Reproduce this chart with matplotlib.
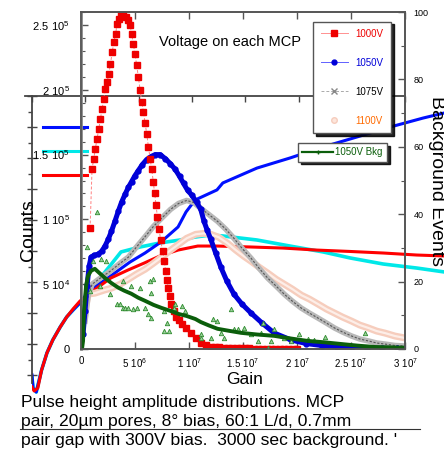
import matplotlib
matplotlib.use('Agg')
import matplotlib.pyplot as plt
from matplotlib.lines import Line2D
from matplotlib.ticker import MultipleLocator
import numpy as np

plt.rcParams['font.family'] = ['Liberation Sans', 'DejaVu Sans']
plt.rcParams['mathtext.fontset'] = 'custom'
plt.rcParams['mathtext.rm'] = 'Liberation Sans'

# gain in units of 1e6, counts in units of 1e3
gain_1000 = [0.84, 1.02, 1.18, 1.33, 1.49, 1.65, 1.80, 1.96, 2.11, 2.26, 2.42, 2.58, 2.73, 2.89, 3.05,
             3.20, 3.35, 3.51, 3.66, 3.91, 4.16, 4.31, 4.54, 4.69, 4.84, 5.00, 5.15, 5.31, 5.47, 5.62,
             5.78, 5.93, 6.08, 6.24, 6.40, 6.55, 6.69, 6.82, 6.95, 7.08, 7.22, 7.39, 7.55, 7.71, 7.85,
             7.97, 8.08, 8.22, 8.36, 8.57, 8.76, 9.04, 9.32, 9.69, 10.15, 10.62, 11.09, 11.55, 12.02,
             12.4, 12.8, 13.2, 13.6, 14.0, 14.4, 14.8, 15.2, 15.6, 16.0, 16.4, 16.8, 17.2, 17.6, 18.0,
             18.4, 18.8, 19.2, 19.6, 20.0]
counts_1000 = [93.1, 138.5, 146.9, 154.6, 162.3, 170.0, 177.7, 185.4, 193.1, 200.8, 206.2, 212.3, 220.0,
               229.2, 236.9, 243.1, 250.8, 254.6, 257.7, 257.9, 256.1, 253.8, 250.0, 243.1, 235.4, 227.7,
               219.2, 210.0, 200.0, 190.8, 183.1, 174.6, 166.2, 156.2, 146.9, 138.5, 129.2, 120.0, 110.8,
               101.5, 92.3, 83.8, 75.4, 67.7, 60.0, 53.1, 46.9, 40.8, 34.6, 29.2, 24.6, 22.3, 19.2, 16.2,
               12.7, 8.5, 5.0, 3.1, 1.9, 1.5, 1.2, 1.0, 0.8, 0.7, 0.6, 0.5, 0.4, 0.4, 0.3, 0.3, 0.3, 0.2,
               0.2, 0.2, 0.2, 0.1, 0.1, 0.1, 0.1]

gain_1050 = [0.19, 0.37, 0.56, 0.75, 0.93, 1.21, 1.58, 1.91, 2.21, 2.52, 2.82, 3.14, 3.45, 3.75, 4.07,
             4.38, 4.69, 5.00, 5.31, 5.68, 6.08, 6.48, 6.87, 7.33, 7.80, 8.26, 8.73, 9.13, 9.50, 9.88,
             10.28, 10.71, 11.09, 11.39, 11.69, 12.02, 12.48, 12.95, 13.51, 14.16, 14.91, 15.75, 16.77,
             17.89, 19.47, 20.87, 22.27, 23.67, 25.06, 26.46, 27.86, 29.26, 30.0]
counts_1050 = [11.5, 29.2, 48.5, 63.8, 70.8, 72.3, 73.1, 75.4, 79.2, 84.6, 90.8, 98.5, 106.2, 113.1, 119.2,
               124.6, 129.2, 133.8, 137.7, 142.3, 146.2, 148.5, 150.0, 150.0, 146.9, 143.1, 138.5, 133.1,
               127.7, 122.3, 118.5, 113.1, 107.7, 98.5, 91.5, 84.6, 73.8, 63.1, 52.3, 42.3, 34.6, 27.7,
               20.0, 12.3, 6.9, 4.2, 2.7, 1.8, 1.2, 0.8, 0.5, 0.4, 0.4]

gain_1075 = [0.37, 0.65, 1.03, 1.77, 2.70, 3.63, 4.38, 5.12, 5.96, 6.71, 7.45, 8.29, 9.04, 9.78, 10.43,
             11.09, 11.83, 12.64, 13.42, 14.16, 14.91, 15.75, 16.49, 17.30, 18.07, 18.82, 19.57, 20.41,
             21.15, 21.96, 22.73, 23.48, 24.22, 25.06, 25.81, 26.62, 27.39, 28.14, 29.07, 30.0]
counts_1075 = [21.5, 40.8, 50.0, 54.6, 60.0, 66.2, 70.8, 78.5, 86.9, 94.6, 100.8, 107.7, 112.3, 114.6,
               113.1, 108.5, 103.8, 98.5, 92.3, 85.4, 77.7, 70.0, 62.3, 54.6, 48.5, 42.3, 36.9, 31.5,
               27.7, 23.8, 20.0, 16.2, 13.1, 10.0, 7.7, 6.2, 4.6, 3.8, 2.7, 2.3]

gain_1100 = [0.28, 0.47, 0.65, 1.30, 2.14, 2.80, 3.63, 4.38, 5.12, 5.93, 6.71, 7.45, 8.29, 9.04, 9.78,
             10.62, 11.37, 12.02, 12.76, 13.58, 14.35, 15.09, 15.75, 16.49, 17.30, 18.07, 18.82, 19.57,
             20.41, 21.15, 21.96, 22.73, 23.48, 24.22, 25.06, 25.81, 26.62, 27.39, 28.14, 29.07, 30.0]
counts_1100 = [21.5, 33.1, 42.3, 43.1, 45.4, 46.9, 50.0, 53.8, 57.7, 61.5, 66.2, 70.8, 76.2, 80.8, 85.4,
               88.5, 89.2, 88.5, 86.2, 81.5, 76.2, 71.5, 67.7, 63.1, 58.5, 53.8, 50.0, 46.2, 41.5, 38.5,
               34.6, 30.8, 27.7, 24.6, 21.5, 18.5, 16.2, 13.8, 12.3, 10.0, 8.5]

# 1050V background, right axis (events)
gain_bkg = [0.09, 0.19, 0.28, 0.47, 0.65, 0.93, 1.28, 1.58, 2.21, 2.80, 3.45, 4.01, 4.66, 5.31, 5.93,
            6.71, 7.45, 8.29, 9.04, 9.78, 10.59, 11.09, 11.83, 12.64, 13.70, 14.81, 16.31, 17.89, 19.47,
            20.98, 22.50, 24.04, 25.62, 27.21, 30.0]
events_bkg = [0.0, 2.4, 11.3, 18.8, 21.7, 23.2, 23.8, 22.9, 21.1, 19.6, 18.2, 17.3, 16.4, 15.2, 14.3,
              13.1, 12.2, 11.3, 10.4, 9.8, 8.9, 8.0, 7.0, 6.0, 5.4, 4.8, 4.3, 3.9, 3.1, 2.4, 2.0, 1.5,
              1.0, 0.6, 0.4]
gain_bkg_raw = [0.53, 0.84, 1.12, 1.44, 1.77, 1.86, 2.33, 2.67, 3.33, 3.61, 3.91, 3.91, 4.10, 4.38, 4.66,
                4.84, 5.15, 5.47, 5.93, 6.24, 6.40, 6.52, 6.52, 6.71, 7.64, 7.64, 7.95, 8.11, 8.57, 8.73,
                9.35, 9.66, 11.09, 11.09, 12.02, 12.18, 12.58, 12.95, 13.23, 13.88, 14.16, 14.51, 15.09,
                15.75, 16.37, 16.68, 16.84, 17.30, 17.61, 17.89, 18.82, 19.47, 20.14, 21.03, 21.62, 22.55,
                26.27]
events_bkg_raw = [30.4, 17.3, 26.2, 40.8, 18.8, 26.8, 26.2, 16.4, 13.4, 13.4, 20.2, 12.2, 12.2, 12.2, 18.8,
                  11.9, 12.2, 18.2, 12.2, 10.4, 20.2, 16.7, 9.2, 20.8, 11.3, 5.4, 7.7, 5.4, 12.2, 13.4,
                  12.8, 11.3, 4.5, 3.3, 3.3, 8.9, 8.3, 4.8, 3.3, 11.9, 6.0, 6.0, 6.3, 4.5, 2.4, 4.8, 7.8,
                  0.3, 2.4, 6.0, 3.3, 2.4, 4.5, 3.0, 2.7, 3.6, 4.8]

# the plot pasted underneath (no readable scale, arbitrary units)
ovl_x_blue = [0.0, 0.02, 0.08, 0.18, 0.28, 0.39, 0.53, 0.65, 0.77, 0.90, 1.09, 1.48, 1.84, 2.12, 2.42,
              2.74, 2.89, 3.06, 3.47, 3.58, 4.22, 4.84, 5.46, 6.09, 6.72, 7.34, 7.73]
ovl_y_blue = [2.0, 1.16, 0.90, 2.32, 3.42, 4.26, 5.10, 5.74, 6.19, 6.65, 7.48, 8.4, 9.29, 9.87, 10.58,
              11.55, 12.52, 13.29, 13.94, 14.39, 15.35, 16.0, 16.71, 17.35, 18.0, 18.58, 18.9]
ovl_x_cyan = [0.0, 0.02, 0.08, 0.18, 0.28, 0.39, 0.53, 0.65, 0.77, 0.90, 1.09, 1.28, 1.46, 1.67, 2.03,
              2.40, 2.78, 3.06, 3.34, 3.58, 4.22, 4.84, 5.46, 5.97, 6.59, 7.22, 7.73]
ovl_y_cyan = [1.81, 1.16, 0.90, 2.32, 3.42, 4.26, 5.10, 5.74, 6.19, 6.65, 7.42, 8.26, 9.03, 9.94, 10.26,
              10.52, 10.71, 10.90, 11.03, 10.97, 10.71, 10.32, 9.94, 9.55, 9.16, 8.90, 8.65]
ovl_x_red = [0.0, 0.04, 0.11, 0.18, 0.28, 0.39, 0.53, 0.65, 0.77, 0.90, 1.09, 1.48, 1.80, 2.11, 2.40,
             2.74, 3.11, 3.47, 4.09, 4.71, 5.34, 5.97, 6.59, 7.22, 7.73]
ovl_y_red = [1.23, 0.97, 1.16, 2.32, 3.42, 4.26, 5.10, 5.74, 6.26, 6.77, 7.29, 8.26, 8.77, 9.23, 9.68,
             10.06, 10.32, 10.32, 10.26, 10.19, 10.06, 9.97, 9.87, 9.74, 9.68]

caption = ["Pulse height amplitude distributions. MCP",
           "pair, 20\u00b5m pores, 8\u00b0 bias, 60:1 L/d, 0.7mm",
           "pair gap with 300V bias.  3000 sec background. '"]

W, H = 444.0, 453.0


def box(x0, y0, x1, y1):
    # pixel box (top-left origin) -> figure fraction
    return [x0 / W, 1 - y1 / H, (x1 - x0) / W, (y1 - y0) / H]


def sci(m, e):
    return r'$\mathregular{%s\ 10^{%d}}$' % (m, e)


fig = plt.figure(figsize=(W / 100, H / 100), dpi=100)

# ---- underlying plot ----
ax2 = fig.add_axes(box(32, 96, 444, 406))
ax2.patch.set_visible(False)
ax2.plot(ovl_x_cyan, ovl_y_cyan, color='#00e8e8', lw=2.6)
ax2.plot(ovl_x_blue, ovl_y_blue, color='#0010ff', lw=2.2)
ax2.plot(ovl_x_red, ovl_y_red, color='#ff0000', lw=2.2)
ax2.set_xlim(0, 412 / 53.3)
ax2.set_ylim(0, 20)
for s in ['right', 'bottom']:
    ax2.spines[s].set_visible(False)
ax2.spines['top'].set_bounds(-0.13, 7)
ax2.spines['left'].set_bounds(1.5, 20)
for s in ['top', 'left']:
    ax2.spines[s].set_color('#444444')
    ax2.spines[s].set_linewidth(1.3)
ax2.xaxis.tick_top()
ax2.set_xticks(range(8))
ax2.tick_params(axis='x', direction='in', length=4, width=1, color='#444444', labeltop=False)
ax2.set_yticks(range(2, 21, 2))
ax2.set_yticks(range(3, 20, 2), minor=True)
ax2.tick_params(axis='y', which='major', direction='inout', length=7, width=1, color='#444444',
                labelleft=False)
ax2.tick_params(axis='y', which='minor', direction='out', length=3, width=1, color='#444444')
ovl_handles = [Line2D([], [], color=c, lw=2.2) for c in ['#0010ff', '#00e8e8', '#ff0000']]
ax2.legend(ovl_handles, [' ', ' ', ' '], loc='upper left', bbox_to_anchor=(0.027, 0.912),
           frameon=False, fontsize=8, handlelength=3.96, labelspacing=1.25, borderpad=0,
           borderaxespad=0, handletextpad=0.2)

# ---- main plot ----
ax1 = fig.add_axes(box(81, 12, 405, 349))
ax1.patch.set_visible(False)
g = lambda v: np.array(v) * 1e6
c = lambda v: np.array(v) * 1e3

ax1.plot(g(gain_1100), c(counts_1100), color='#f6cdbd', lw=5, solid_capstyle='round')
ax1.plot(g(gain_1100), c(counts_1100), color='#fdeee8', lw=1.6)
ax1.plot(g(gain_1075), c(counts_1075), color='#b8b8b8', lw=4)
ax1.plot(g(gain_1075), c(counts_1075), color='#555555', lw=0.8, ls=(0, (2, 1.5)))
ax1.plot(g(gain_1050), c(counts_1050), color='#0000d8', lw=3.6, marker='o', ms=3.5)
ax1.plot(g(gain_1000), c(counts_1000), color='#ff8080', lw=0.7, ls=(0, (3, 2)),
         marker='s', ms=4.5, mfc='#ee0000', mec='#ee0000')

ax1.set_xlim(0, 3.0e7)
ax1.set_ylim(0, 2.6e5)
ax1.set_xticks(np.arange(0, 3.01e7, 5e6))
ax1.set_xticklabels(['0', sci(5, 6), sci(1, 7), sci(1.5, 7), sci(2, 7), sci(2.5, 7), sci(3, 7)])
ax1.set_yticks(np.arange(0, 2.51e5, 5e4))
ax1.set_yticklabels(['0', sci(5, 4), sci(1, 5), sci(1.5, 5), sci(2, 5), sci(2.5, 5)])
ax1.yaxis.set_minor_locator(MultipleLocator(1e4))
ax1.tick_params(axis='x', direction='in', top=True, length=5, width=1, color='#555555',
                labelsize=7, pad=5)
ax1.tick_params(axis='y', which='major', direction='in', right=False, length=5, width=1,
                color='#555555', labelsize=8, pad=8)
ax1.tick_params(axis='y', which='minor', direction='in', right=False, length=3, width=0.8,
                color='#555555')
for s in ax1.spines.values():
    s.set_color('#555555')
    s.set_linewidth(1.2)
ax1.spines['left'].set_color('#888888')
ax1.spines['left'].set_linewidth(2)
ax1.text(0.46, 0.911, 'Voltage on each MCP', transform=ax1.transAxes, ha='center', va='center',
         fontsize=10.5)

leg_handles = [
    Line2D([], [], color='#ff9090', lw=0.7, marker='s', ms=4, mfc='#ee0000', mec='#ee0000'),
    Line2D([], [], color='#6060ff', lw=0.7, marker='o', ms=3.5, mfc='#0000d8', mec='#0000d8'),
    Line2D([], [], color='#aaaaaa', lw=0.7, ls=(0, (3, 2)), marker='x', ms=4, mec='#888888'),
    Line2D([], [], ls='none', marker='o', ms=4, mfc='#fde6dc', mec='#f6cdbd'),
]
leg1 = ax1.legend(leg_handles, ['1000V', '1050V', '1075V', '1100V'], loc='upper right',
                  bbox_to_anchor=(0.972, 0.986), fontsize=7, fancybox=False, edgecolor='#555555',
                  framealpha=1, shadow={'color': 'black', 'alpha': 0.85},
                  labelcolor=['#ee0000', '#0000d8', 'black', '#ff6a00'],
                  handlelength=2.8, labelspacing=1.95, borderpad=0.75, handletextpad=0.8)
leg1.get_frame().set_linewidth(1)

# right axis: background events
axr = ax1.twinx()
axr.plot(g(gain_bkg_raw), events_bkg_raw, ls='none', marker='^', ms=3.2, mfc='#9ad09a',
         mec='#2e8b2e', mew=0.6)
axr.plot(g(gain_bkg), events_bkg, color='#0b5e0b', lw=2.8)
axr.set_ylim(0, 100)
axr.set_yticks(range(0, 101, 20))
axr.yaxis.set_minor_locator(MultipleLocator(10))
axr.tick_params(axis='y', which='major', direction='in', length=5, width=1, color='#555555',
                labelsize=6.5, pad=6)
axr.tick_params(axis='y', which='minor', direction='in', length=3, width=0.8, color='#555555')
for s in axr.spines.values():
    s.set_color('#555555')
    s.set_linewidth(1.2)
leg2 = axr.legend([Line2D([], [], color='#0b5e0b', lw=1.6, marker='+', ms=3)], ['1050V Bkg'],
                  loc='upper right', bbox_to_anchor=(0.96, 0.626), fontsize=7, fancybox=False,
                  edgecolor='#555555', framealpha=1, shadow={'color': 'black', 'alpha': 0.85},
                  labelcolor='#0b5e0b', handlelength=3.2, borderpad=0.45, handletextpad=0.2)
leg2.get_frame().set_linewidth(1)

# axis titles
fig.text(245 / W, 1 - 379 / H, 'Gain', ha='center', va='center', fontsize=12.5)
fig.text(29 / W, 1 - 230 / H, 'Counts', ha='center', va='center', rotation=90, fontsize=14)
fig.text(436 / W, 1 - 181 / H, 'Background Events', ha='center', va='center', rotation=270,
         fontsize=14)

# caption
for txt, base in zip(caption, [407, 426, 445]):
    fig.text(21 / W, 1 - base / H, txt, ha='left', va='baseline', fontsize=12.6)
fig.add_artist(Line2D([20 / W, 420 / W], [1 - 429 / H, 1 - 429 / H], color='#333333', lw=0.8))

fig.savefig('out.png', dpi=100)
